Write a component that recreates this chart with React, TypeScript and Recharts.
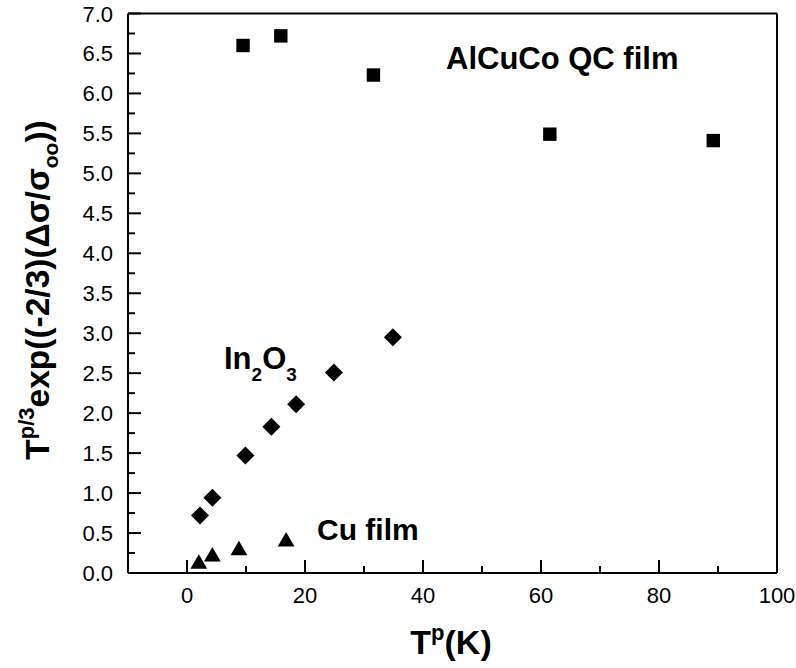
import React from 'react';
import { ScatterChart, Scatter, XAxis, YAxis, ReferenceLine } from 'recharts';

// AlCuCo QC film (squares)
const alcucoT = [9.5, 15.9, 31.6, 61.5, 89.2];
const alcucoV = [6.6, 6.72, 6.23, 5.49, 5.41];
// In2O3 (diamonds)
const in2o3T = [2.2, 4.3, 9.9, 14.3, 18.5, 24.9, 34.9];
const in2o3V = [0.72, 0.94, 1.47, 1.83, 2.11, 2.51, 2.95];
// Cu film (triangles)
const cuT = [2.0, 4.3, 8.8, 16.8];
const cuV = [0.14, 0.23, 0.31, 0.42];

const xTicks = [0, 10, 20, 30, 40, 50, 60, 70, 80, 90, 100];
const xMajor = [0, 20, 40, 60, 80, 100];
const yTicks = [0, 0.25, 0.5, 0.75, 1, 1.25, 1.5, 1.75, 2, 2.25, 2.5, 2.75, 3, 3.25, 3.5, 3.75, 4, 4.25, 4.5, 4.75, 5, 5.25, 5.5, 5.75, 6, 6.25, 6.5, 6.75, 7];
const yMajor = [0, 0.5, 1, 1.5, 2, 2.5, 3, 3.5, 4, 4.5, 5, 5.5, 6, 6.5, 7];

const FONT = '"Liberation Sans", Arial, Helvetica, sans-serif';

const toPts = (xs: number[], ys: number[]) => xs.map((x, i) => ({ x, y: ys[i] }));
const alcucoData = toPts(alcucoT, alcucoV);
const in2o3Data = toPts(in2o3T, in2o3V);
const cuData = toPts(cuT, cuV);

const Square = (p: any) => (
  <rect x={p.cx - 6.7} y={p.cy - 6.7} width={13.4} height={13.4} fill="#000" />
);
const Diamond = (p: any) => (
  <polygon
    points={`${p.cx},${p.cy - 9} ${p.cx + 9},${p.cy} ${p.cx},${p.cy + 9} ${p.cx - 9},${p.cy}`}
    fill="#000"
  />
);
const Triangle = (p: any) => (
  <polygon
    points={`${p.cx},${p.cy - 7.5} ${p.cx + 8.4},${p.cy + 7} ${p.cx - 8.4},${p.cy + 7}`}
    fill="#000"
  />
);

const XTick = (p: any) => {
  const v = p.payload.value;
  const major = xMajor.includes(v);
  return (
    <g>
      <line x1={p.x} y1={p.y} x2={p.x} y2={p.y - (major ? 13 : 7)} stroke="#000" strokeWidth={2} />
      {major && (
        <text x={p.x} y={p.y + 30} textAnchor="middle" fontSize={22} fontFamily={FONT} fill="#000">
          {v}
        </text>
      )}
    </g>
  );
};

const YTick = (p: any) => {
  const v = p.payload.value;
  const major = yMajor.includes(v);
  return (
    <g>
      <line x1={p.x} y1={p.y} x2={p.x + (major ? 13 : 7)} y2={p.y} stroke="#000" strokeWidth={2} />
      {major && (
        <text x={p.x - 15} y={p.y + 8} textAnchor="end" fontSize={22} fontFamily={FONT} fill="#000">
          {v.toFixed(1)}
        </text>
      )}
    </g>
  );
};

const XLabel = () => (
  <text x={451} y={654} textAnchor="middle" fontSize={34} fontWeight="bold" fontFamily={FONT} fill="#000">
    T<tspan fontSize={22} dy={-14}>p</tspan>
    <tspan dy={14}>(K)</tspan>
  </text>
);

const YLabel = () => (
  <text
    x={49}
    y={290}
    transform="rotate(-90 49 290)"
    textAnchor="middle"
    fontSize={33.5}
    fontWeight="bold"
    fontFamily={FONT}
    fill="#000"
  >
    T<tspan fontSize={22} dy={-15}>p/3</tspan>
    <tspan dy={15}>exp((-2/3)(Δσ/σ</tspan>
    <tspan fontSize={21} dy={9}>oo</tspan>
    <tspan dy={-9}>))</tspan>
  </text>
);

const Annotations = () => (
  <g fontFamily={FONT} fontWeight="bold" fill="#000">
    <text x={446} y={69} fontSize={31}>AlCuCo QC film</text>
    <text x={224} y={369} fontSize={31}>
      In<tspan fontSize={19} dy={12}>2</tspan>
      <tspan dy={-12}>O</tspan>
      <tspan fontSize={19} dy={12}>3</tspan>
    </text>
    <text x={317} y={540} fontSize={30}>Cu film</text>
  </g>
);

export default function App() {
  return (
    <div style={{ position: 'absolute', left: 0, top: 0, width: 796, height: 668, background: '#fff' }}>
      <ScatterChart width={796} height={668} margin={{ top: 13.5, right: 19, bottom: 35, left: 0 }}>
        <XAxis
          type="number"
          dataKey="x"
          domain={[-10, 100]}
          ticks={xTicks}
          interval={0}
          height={60}
          tickSize={0}
          tickMargin={0}
          tickLine={false}
          axisLine={{ stroke: '#000', strokeWidth: 2 }}
          tick={<XTick />}
          allowDataOverflow
        />
        <YAxis
          type="number"
          dataKey="y"
          domain={[0, 7]}
          ticks={yTicks}
          interval={0}
          width={128}
          tickSize={0}
          tickMargin={0}
          tickLine={false}
          axisLine={{ stroke: '#000', strokeWidth: 2 }}
          tick={<YTick />}
          allowDataOverflow
        />
        <ReferenceLine y={7} stroke="#000" strokeWidth={2} ifOverflow="visible" />
        <ReferenceLine x={100} stroke="#000" strokeWidth={2} ifOverflow="visible" />
        <Scatter data={alcucoData} shape={<Square />} isAnimationActive={false} />
        <Scatter data={in2o3Data} shape={<Diamond />} isAnimationActive={false} />
        <Scatter data={cuData} shape={<Triangle />} isAnimationActive={false} />
        <XLabel />
        <YLabel />
        <Annotations />
      </ScatterChart>
    </div>
  );
}
